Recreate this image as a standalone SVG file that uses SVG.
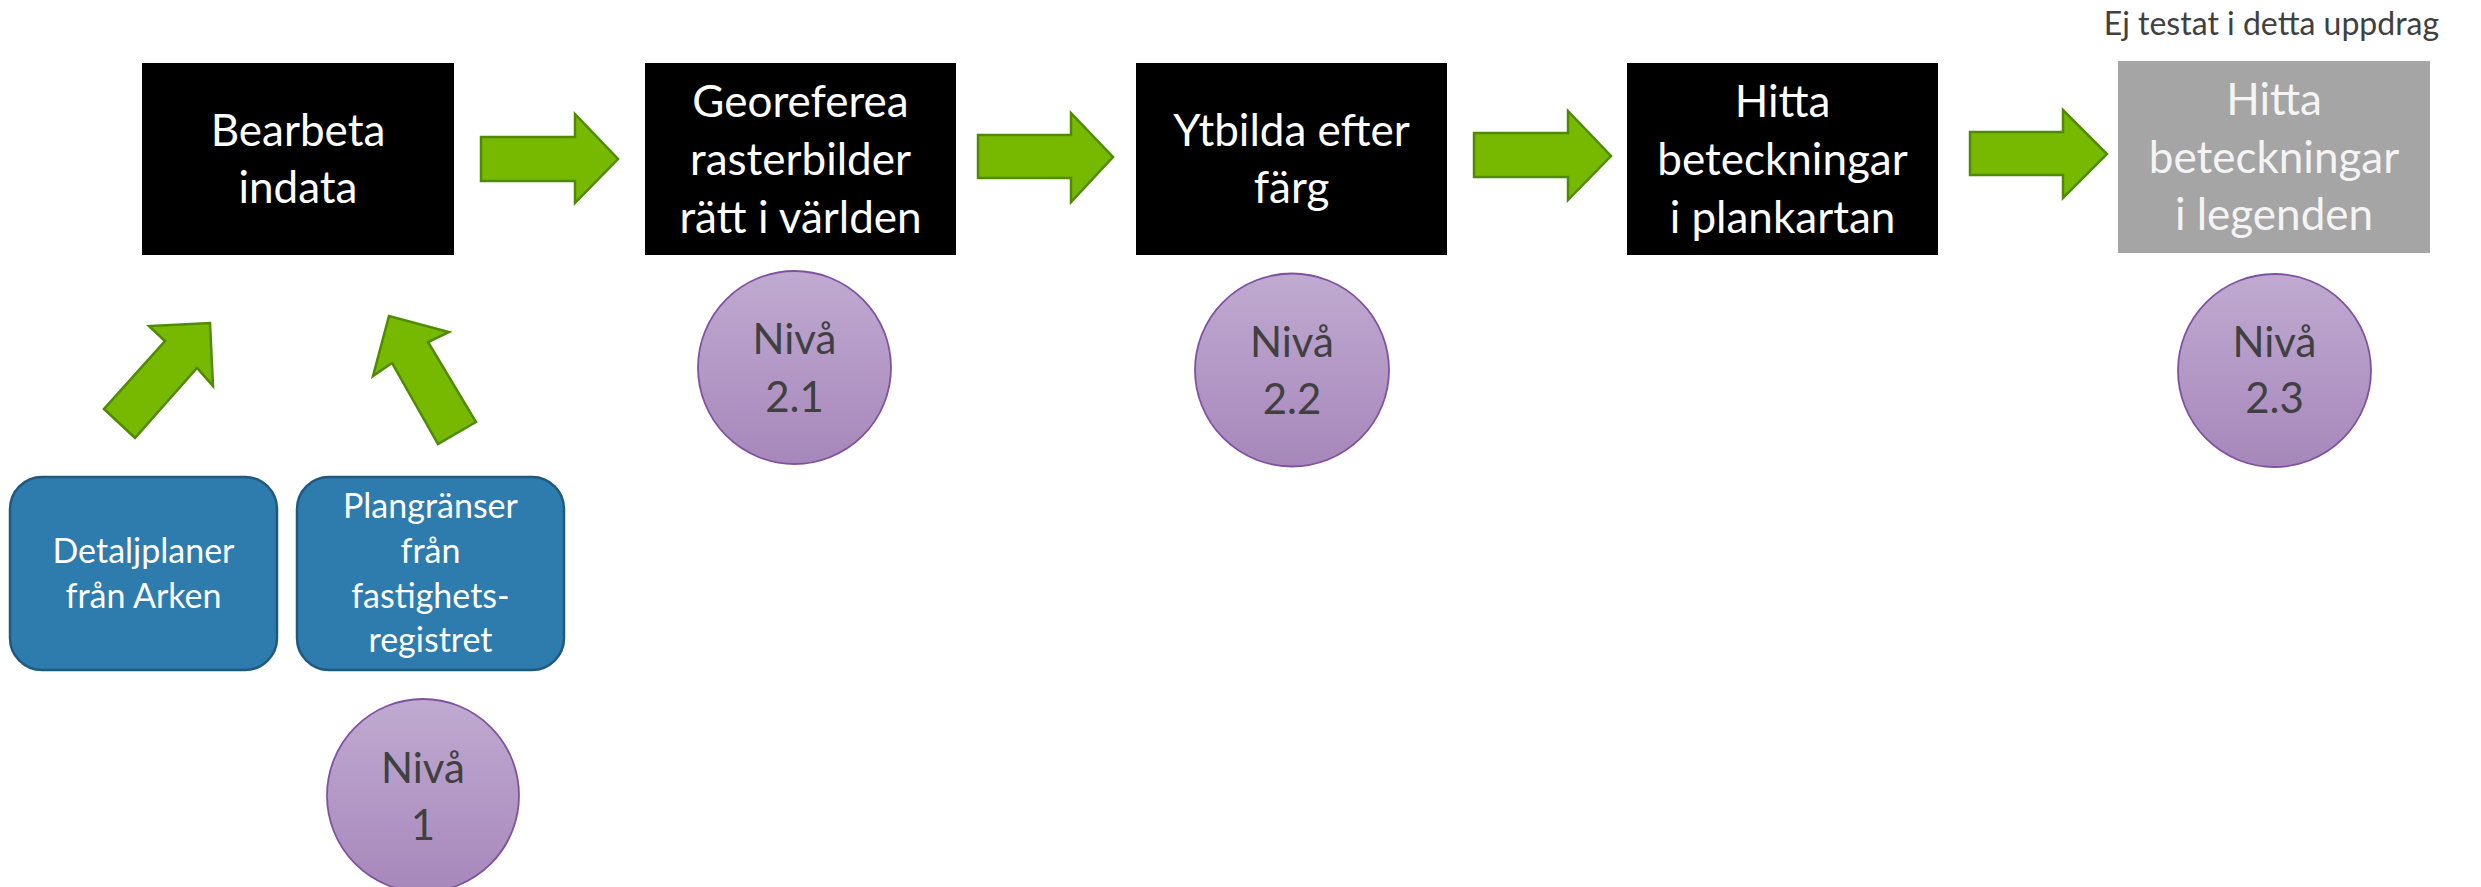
<svg xmlns="http://www.w3.org/2000/svg" width="2481" height="887" viewBox="0 0 2481 887">
<defs>
<linearGradient id="pg" x1="0" y1="0" x2="0" y2="1">
<stop offset="0" stop-color="#c0aad1"/>
<stop offset="1" stop-color="#a787bb"/>
</linearGradient>
<style>
.box{fill:#000}
.gray{fill:#a5a5a5}
.blue{fill:#2e7bae;stroke:#1e5a80;stroke-width:2.5}
.lvl{fill:url(#pg);stroke:#7f52a0;stroke-width:1.8}
.arr{fill:#77b800;stroke:#4f8a00;stroke-width:2.5;stroke-linejoin:miter}
text{font-family:Lato,"Open Sans","Liberation Sans",sans-serif;text-anchor:middle}
.bt{fill:#fff;font-size:44px}
.gt{fill:#f4f4f4;font-size:44px}
.st{fill:#fff;font-size:34px}
.lt{fill:#404040;font-size:42px}
.note{fill:#404040;font-size:32px}
</style>
</defs>
<rect width="2481" height="887" fill="#fff"/>

<g id="connectors">
<polygon class="arr" points="481,137 575,137 575,114 618,159 575,203 575,181 481,181"/>
<polygon class="arr" points="978,135 1071,135 1071,113 1113,157 1071,202 1071,178 978,178"/>
<polygon class="arr" points="1474,133 1568,133 1568,111 1611,156 1568,200 1568,177 1474,177"/>
<polygon class="arr" points="1970,132 2063,132 2063,110 2107,154 2063,198 2063,175 1970,175"/>
<polygon class="arr" points="104,409 135,438 197,368 213,386 210,323 149,326 165,341"/>
<polygon class="arr" points="476,422 438,444 392,363 373,376 389,316 449,332 428,342"/>
</g>

<g id="n-bearbeta">
<rect class="box" x="142" y="63" width="312" height="192"/>
<text class="bt" x="298" y="146">Bearbeta</text>
<text class="bt" x="298" y="203">indata</text>
</g>

<g id="n-georeferea">
<rect class="box" x="645" y="63" width="311" height="192"/>
<text class="bt" x="800.5" y="117">Georeferea</text>
<text class="bt" x="800.5" y="175">rasterbilder</text>
<text class="bt" x="800.5" y="233">rätt i världen</text>
</g>

<g id="n-ytbilda">
<rect class="box" x="1136" y="63" width="311" height="192"/>
<text class="bt" x="1291.5" y="146">Ytbilda efter</text>
<text class="bt" x="1291.5" y="203">färg</text>
</g>

<g id="n-plankartan">
<rect class="box" x="1627" y="63" width="311" height="192"/>
<text class="bt" x="1782.5" y="117">Hitta</text>
<text class="bt" x="1782.5" y="175">beteckningar</text>
<text class="bt" x="1782.5" y="233">i plankartan</text>
</g>

<g id="n-legenden">
<rect class="gray" x="2118" y="61" width="312" height="192"/>
<text class="gt" x="2274" y="115">Hitta</text>
<text class="gt" x="2274" y="173">beteckningar</text>
<text class="gt" x="2274" y="230">i legenden</text>
</g>

<g id="note">
<text class="note" x="2271.5" y="35">Ej testat i detta uppdrag</text>
</g>

<g id="n-detaljplaner">
<rect class="blue" x="10" y="477" width="267" height="193" rx="32" ry="32"/>
<text class="st" x="143.5" y="563">Detaljplaner</text>
<text class="st" x="143.5" y="608">från Arken</text>
</g>

<g id="n-plangranser">
<rect class="blue" x="297" y="477" width="267" height="193" rx="32" ry="32"/>
<text class="st" x="430.5" y="518">Plangränser</text>
<text class="st" x="430.5" y="563">från</text>
<text class="st" x="430.5" y="608">fastighets-</text>
<text class="st" x="430.5" y="652">registret</text>
</g>

<g id="n-niva1">
<ellipse class="lvl" cx="423" cy="795.5" rx="96" ry="96.5"/>
<text class="lt" x="423" y="783">Nivå</text>
<text class="lt" x="423" y="840">1</text>
</g>

<g id="n-niva21">
<ellipse class="lvl" cx="794.5" cy="367.5" rx="96.5" ry="96.5"/>
<text class="lt" x="794.5" y="354">Nivå</text>
<text class="lt" x="794.5" y="412">2.1</text>
</g>

<g id="n-niva22">
<ellipse class="lvl" cx="1292" cy="370" rx="97" ry="96.5"/>
<text class="lt" x="1292" y="357">Nivå</text>
<text class="lt" x="1292" y="414">2.2</text>
</g>

<g id="n-niva23">
<ellipse class="lvl" cx="2274.5" cy="370.5" rx="96.5" ry="96.5"/>
<text class="lt" x="2274.5" y="357">Nivå</text>
<text class="lt" x="2274.5" y="413">2.3</text>
</g>
</svg>
